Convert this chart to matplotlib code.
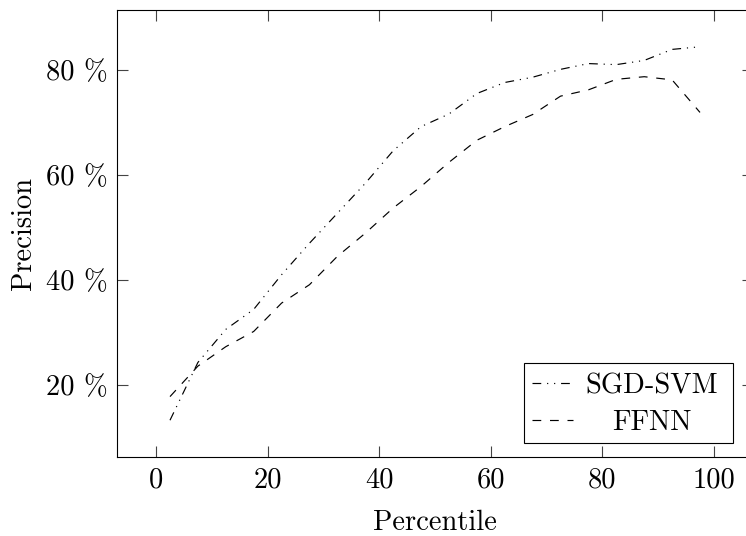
import matplotlib
matplotlib.use("Agg")
import matplotlib.pyplot as plt
from matplotlib.lines import Line2D
from matplotlib.patches import Rectangle

plt.rcParams['font.family'] = ['cmr10', 'DejaVu Serif']
plt.rcParams['axes.formatter.use_mathtext'] = True
plt.rcParams['lines.scale_dashes'] = False

percentile = [2.5, 7.5, 12.5, 17.5, 22.5, 27.5, 32.5, 37.5, 42.5, 47.5,
              52.5, 57.5, 62.5, 67.5, 72.5, 77.5, 82.5, 87.5, 92.5, 97.5]
sgd_svm = [13.3, 24.3, 30.6, 34.4, 41.0, 47.0, 52.7, 58.4, 64.6, 69.2,
           71.6, 75.5, 77.6, 78.6, 80.1, 81.2, 81.0, 81.8, 83.9, 84.4]
ffnn = [17.8, 23.6, 27.3, 30.2, 35.6, 39.1, 44.5, 48.9, 53.7, 57.8,
        62.4, 66.6, 69.2, 71.5, 75.0, 76.2, 78.2, 78.7, 78.1, 71.9]
labels = ['SGD-SVM', 'FFNN']
xticks = [0, 20, 40, 60, 80, 100]
yticks = [20, 40, 60, 80]
ytick_labels = ['20 %', '40 %', '60 %', '80 %']

W, H = 746, 536
fig = plt.figure(figsize=(W / 100, H / 100), dpi=100)
ax = fig.add_axes([117 / W, 1 - 457 / H, (753 - 117) / W, (457 - 10) / H])

dashdotdot = (0, (6.3, 4.2, 0.84, 4.2, 0.84, 4.2))
dashed = (0, (6.3, 6.3))
lw = 0.85
ax.plot(percentile, sgd_svm, color='black', lw=lw, linestyle=dashdotdot)
ax.plot(percentile, ffnn, color='black', lw=lw, linestyle=dashed)

ax.set_xlim(-7, 107)
ax.set_ylim(6.3, 91.4)
ax.set_xticks(xticks)
ax.set_xticklabels([str(v) for v in xticks])
ax.set_yticks(yticks)
ax.set_yticklabels(ytick_labels)
ax.tick_params(direction='in', length=8, width=0.8, top=True, right=True,
               labelsize=20.5, pad=7, color='#444444')
for s in ax.spines.values():
    s.set_linewidth(0.8)
    s.set_color('black')

ax.set_xlabel('Percentile', fontsize=20.5, labelpad=12)
ax.set_ylabel('Precision', fontsize=20.5, labelpad=6)

# legend (pgfplots style, centered text)
fig.patches.append(Rectangle((524 / W, 1 - 443 / H), (733 - 524) / W, (443 - 363) / H,
                             transform=fig.transFigure, fill=False,
                             edgecolor='black', lw=0.8))
styles = [dashdotdot, dashed]
ys = [383, 420]
for lab, st, yy in zip(labels, styles, ys):
    fig.lines.append(Line2D([532 / W, 573 / W], [1 - yy / H, 1 - yy / H],
                            transform=fig.transFigure, color='black', lw=lw,
                            linestyle=st))
    fig.text(652 / W, 1 - yy / H, lab, ha='center', va='center_baseline',
             fontsize=20.5)

fig.savefig('out.png', dpi=100)
